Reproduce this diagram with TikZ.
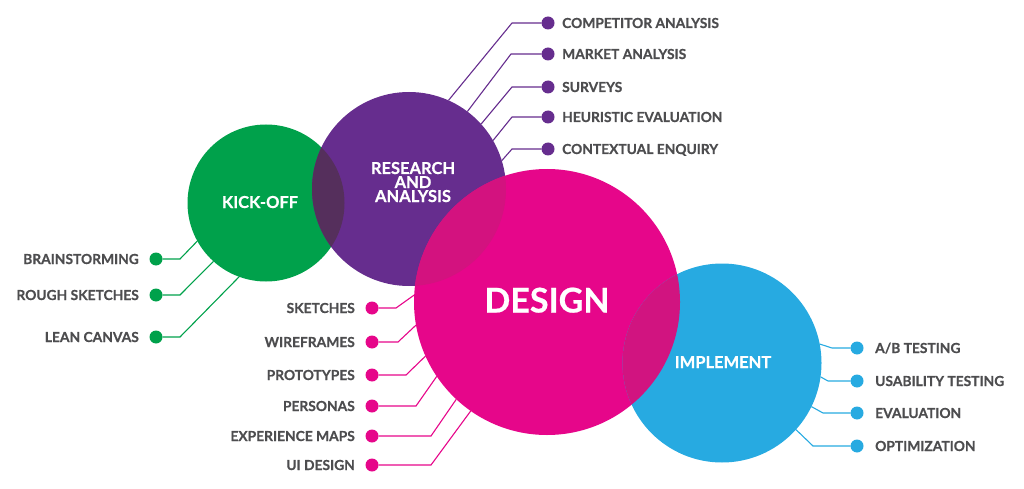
\documentclass[tikz,border=0pt]{standalone}
\usepackage{fontspec}
\setmainfont{Lato}
\newfontfamily\heavyfont[BoldFeatures={FakeBold=0.6}]{Lato}
\definecolor{cgreen}{HTML}{00A14B}
\definecolor{cpurple}{HTML}{662D8E}
\definecolor{cpink}{HTML}{E6068A}
\definecolor{cblue}{HTML}{27AAE1}
\definecolor{ovgp}{HTML}{552F5C}
\definecolor{ovpk}{HTML}{D3127F}
\definecolor{ovkb}{HTML}{D11480}
\definecolor{textgray}{HTML}{4D4D4F}
\begin{document}
\begin{tikzpicture}[x=1pt,y=-1pt,
  bubble/.style={circle, inner sep=0pt, outer sep=0pt, draw=none},
  dotnode/.style={circle, inner sep=0pt, outer sep=0pt, minimum size=13pt},
  lbl/.style={text=textgray, font=\heavyfont\bfseries\fontsize{13.8}{14}\selectfont, inner sep=0pt, text height=10pt, text depth=0pt},
  link/.style={line width=1.1pt},
  title/.style={text=white, inner sep=0pt, align=center, text depth=0pt}]

\useasboundingbox (0,0) rectangle (1024,489);

% circles
\node[bubble, fill=cgreen, minimum size=157pt] (kick) at (266,203) {};
\node[bubble, fill=cpurple, minimum size=194pt] (research) at (409,189) {};
\node[bubble, fill=cpink, minimum size=266pt] (design) at (547,302) {};
\node[bubble, fill=cblue, minimum size=199pt] (implement) at (722,363) {};

% overlaps
\begin{scope}
  \clip (kick.center) circle[radius=78.5pt];
  \fill[ovgp] (research.center) circle[radius=97pt];
\end{scope}
\begin{scope}
  \clip (research.center) circle[radius=97pt];
  \fill[ovpk] (design.center) circle[radius=133pt];
\end{scope}
\begin{scope}
  \clip (design.center) circle[radius=133pt];
  \fill[ovkb] (implement.center) circle[radius=99.5pt];
\end{scope}

% titles
\node[title, text height=12pt, font=\heavyfont\bfseries\fontsize{16.5}{17}\selectfont] (kicktxt) at (260,202) {KICK-OFF};
\node[title, text height=12pt, font=\heavyfont\bfseries\fontsize{16.5}{14}\selectfont] (restxt1) at (413,168) {RESEARCH};
\node[title, text height=12pt, font=\heavyfont\bfseries\fontsize{16.5}{14}\selectfont] (restxt2) at (413,182) {AND};
\node[title, text height=12pt, font=\heavyfont\bfseries\fontsize{16.5}{14}\selectfont] (restxt3) at (413,196) {ANALYSIS};
\node[title, text height=25pt, font=\heavyfont\bfseries\fontsize{34}{36}\selectfont] (destxt) at (547,300) {DESIGN};
\node[title, text height=12pt, font=\heavyfont\bfseries\fontsize{16.5}{17}\selectfont] (imptxt) at (723,362) {IMPLEMENT};

% research items
\node[dotnode, fill=cpurple] (p1) at (548,23) {};
\node[dotnode, fill=cpurple] (p2) at (548,54) {};
\node[dotnode, fill=cpurple] (p3) at (548,87) {};
\node[dotnode, fill=cpurple] (p4) at (548,117) {};
\node[dotnode, fill=cpurple] (p5) at (548,149) {};
\node[lbl, anchor=west] (p1t) at (562,23) {COMPETITOR ANALYSIS};
\node[lbl, anchor=west] (p2t) at (562,54) {MARKET ANALYSIS};
\node[lbl, anchor=west] (p3t) at (562,87) {SURVEYS};
\node[lbl, anchor=west] (p4t) at (562,117) {HEURISTIC EVALUATION};
\node[lbl, anchor=west] (p5t) at (562,149) {CONTEXTUAL ENQUIRY};
\coordinate (p1b) at (512,23);
\coordinate (p2b) at (511,54);
\coordinate (p3b) at (512,87);
\coordinate (p4b) at (512,117);
\coordinate (p5b) at (512,149);
\draw[link, cpurple] (p1) -- (p1b) -- (research.66.3);
\draw[link, cpurple] (p2) -- (p2b) -- (research.53.7);
\draw[link, cpurple] (p3) -- (p3b) -- (research.42.2);
\draw[link, cpurple] (p4) -- (p4b) -- (research.30.7);
\draw[link, cpurple] (p5) -- (p5b) -- (research.17.1);

% kick-off items
\node[dotnode, fill=cgreen] (g1) at (156,259) {};
\node[dotnode, fill=cgreen] (g2) at (156,295) {};
\node[dotnode, fill=cgreen] (g3) at (156,337) {};
\node[lbl, anchor=east] (g1t) at (139,259) {BRAINSTORMING};
\node[lbl, anchor=east] (g2t) at (139,295) {ROUGH SKETCHES};
\node[lbl, anchor=east] (g3t) at (139,337) {LEAN CANVAS};
\coordinate (g1b) at (180,259);
\coordinate (g2b) at (180,295);
\coordinate (g3b) at (180,337);
\draw[link, cgreen] (g1) -- (g1b) -- (kick.209.3);
\draw[link, cgreen] (g2) -- (g2b) -- (kick.228.1);
\draw[link, cgreen] (g3) -- (g3b) -- (kick.250.6);

% design items
\node[dotnode, fill=cpink] (k1) at (372,308) {};
\node[dotnode, fill=cpink] (k2) at (372,342) {};
\node[dotnode, fill=cpink] (k3) at (372,375) {};
\node[dotnode, fill=cpink] (k4) at (372,406) {};
\node[dotnode, fill=cpink] (k5) at (372,436) {};
\node[dotnode, fill=cpink] (k6) at (372,465) {};
\node[lbl, anchor=east] (k1t) at (355,308) {SKETCHES};
\node[lbl, anchor=east] (k2t) at (355,342) {WIREFRAMES};
\node[lbl, anchor=east] (k3t) at (355,375) {PROTOTYPES};
\node[lbl, anchor=east] (k4t) at (355,406) {PERSONAS};
\node[lbl, anchor=east] (k5t) at (355,436) {EXPERIENCE MAPS};
\node[lbl, anchor=east] (k6t) at (355,465) {UI DESIGN};
\coordinate (k1b) at (396,308);
\coordinate (k2b) at (398,342);
\coordinate (k3b) at (406,375);
\coordinate (k4b) at (416,406);
\coordinate (k5b) at (431,436);
\coordinate (k6b) at (431,465);
\draw[link, cpink] (k1) -- (k1b) -- (design.177.9);
\draw[link, cpink] (k2) -- (k2b) -- (design.190.9);
\draw[link, cpink] (k3) -- (k3b) -- (design.204.3);
\draw[link, cpink] (k4) -- (k4b) -- (design.214.9);
\draw[link, cpink] (k5) -- (k5b) -- (design.227.4);
\draw[link, cpink] (k6) -- (k6b) -- (design.235.7);

% implement items
\node[dotnode, fill=cblue] (b1) at (857,348) {};
\node[dotnode, fill=cblue] (b2) at (857,381) {};
\node[dotnode, fill=cblue] (b3) at (857,413) {};
\node[dotnode, fill=cblue] (b4) at (857,446) {};
\node[lbl, anchor=west] (b1t) at (875,348) {A/B TESTING};
\node[lbl, anchor=west] (b2t) at (875,381) {USABILITY TESTING};
\node[lbl, anchor=west] (b3t) at (875,413) {EVALUATION};
\node[lbl, anchor=west] (b4t) at (875,446) {OPTIMIZATION};
\coordinate (b1b) at (832,348);
\coordinate (b2b) at (828,381);
\coordinate (b3b) at (823,413);
\coordinate (b4b) at (813,446);
\draw[link, cblue] (b1) -- (b1b) -- (implement.11.5);
\draw[link, cblue] (b2) -- (b2b) -- (implement.-8.7);
\draw[link, cblue] (b3) -- (b3b) -- (implement.-26.1);
\draw[link, cblue] (b4) -- (b4b) -- (implement.-42.5);
\end{tikzpicture}
\end{document}
